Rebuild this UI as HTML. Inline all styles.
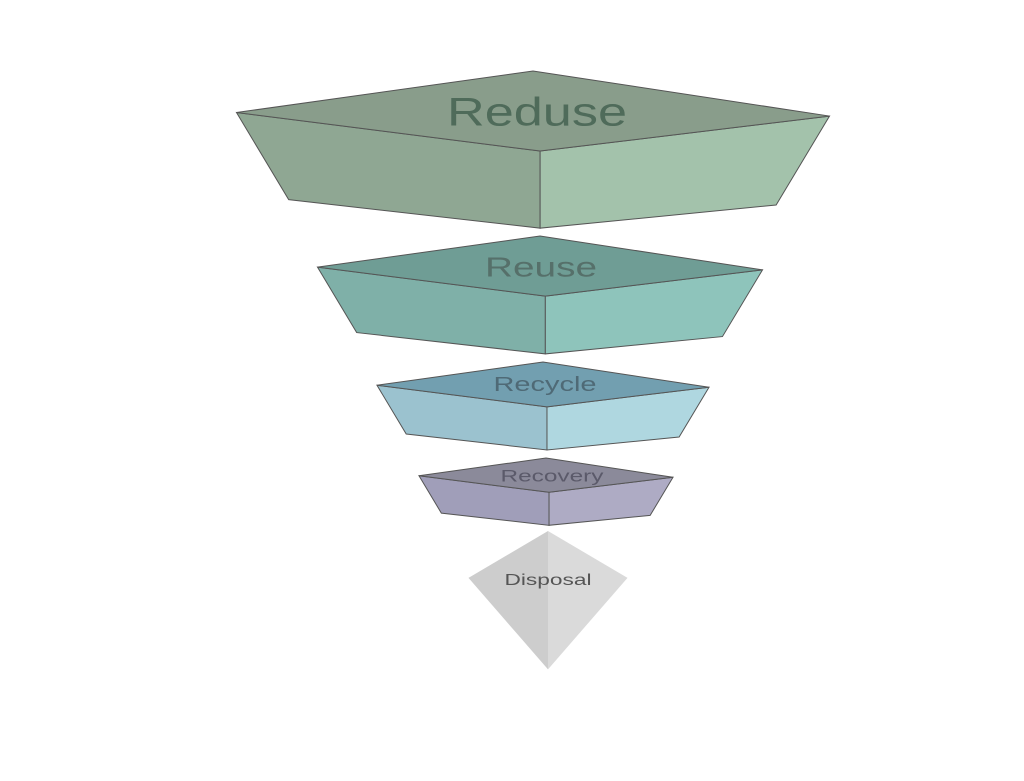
<!DOCTYPE html>
<html><head><meta charset="utf-8">
<style>
html,body{margin:0;padding:0;background:#fff;width:1024px;height:781px;overflow:hidden}
svg{display:block}
text{font-family:"Liberation Sans",sans-serif;text-anchor:middle;dominant-baseline:central}
</style></head>
<body>
<svg id="chart" width="1024" height="781" viewBox="0 0 1024 781"></svg>
<script>
const labels = ["Reduse","Reuse","Recycle","Recovery","Disposal"];
const widths = [593,445,332,254,159];
const topColors = ["#899d8b","#6f9d95","#729fb0","#8b8a9a"];
const leftColors = ["#8fa793","#7fb0a8","#9bc2cf","#a09eb9"];
const rightColors = ["#a3c2ab","#8ec4bb","#afd7e0","#aeabc4"];
const fontSizes = [40,28,20,17,16];
const textLengths = [180,112,103,103,87];
const textColors = ["#4f6b5a","#56706a","#4f6a76","#5b5a6a","#555555"];

const svg = document.getElementById('chart');
const NS = 'http://www.w3.org/2000/svg';
const topYs = [71,236,362,458,531];
const cxs = [533,540,543,546,548];
const labelXs = [537,541,545,552,548];

function poly(pts, fill, name, stroke){
  const p = document.createElementNS(NS,'polygon');
  p.setAttribute('points', pts.map(q=>q.join(',')).join(' '));
  p.setAttribute('fill', fill);
  p.setAttribute('stroke', stroke||'#555');
  p.setAttribute('stroke-width', stroke==='none'?0:1);
  
  
  svg.appendChild(p);
}
function label(x,y,t,size,color,len){
  const el = document.createElementNS(NS,'text');
  el.setAttribute('x',x); el.setAttribute('y',y);
  el.setAttribute('font-size',size);
  el.setAttribute('fill',color);
  el.setAttribute('textLength', len);
  el.setAttribute('lengthAdjust', 'spacingAndGlyphs');
  el.textContent = t;
  
  
  svg.appendChild(el);
}

for(let i=0;i<4;i++){
  const w = widths[i], hw = w/2, cx = cxs[i], ty = topYs[i];
  const L=[cx-hw, ty+0.07*w], T=[cx,ty], R=[cx+hw, ty+0.076*w], F=[cx+0.012*w, ty+0.135*w];
  const BL=[L[0]+0.088*w, L[1]+0.147*w], B=[F[0], F[1]+0.13*w], BR=[R[0]-0.09*w, R[1]+0.15*w];
  const n = labels[i].toLowerCase();
  poly([L,F,B,BL], leftColors[i], 'layer-'+n+'-left-face');
  poly([F,R,BR,B], rightColors[i], 'layer-'+n+'-right-face');
  poly([L,T,R,F], topColors[i], 'layer-'+n+'-top-face');
  label(labelXs[i], ty+0.07*w, labels[i], fontSizes[i], textColors[i], textLengths[i]);
}
{
  const w = widths[4], hw=w/2, cx=cxs[4], ty=topYs[4];
  const T=[cx,ty], L=[cx-hw, ty+0.295*w], R=[cx+hw, ty+0.295*w], B=[cx, ty+0.87*w];
  poly([T,L,B], '#cdcdcd', 'layer-disposal-left-face', 'none');
  poly([T,R,B], '#dadada', 'layer-disposal-right-face', 'none');
  label(labelXs[4], ty+0.31*w, labels[4], fontSizes[4], textColors[4], textLengths[4]);
}
</script>
</body></html>
